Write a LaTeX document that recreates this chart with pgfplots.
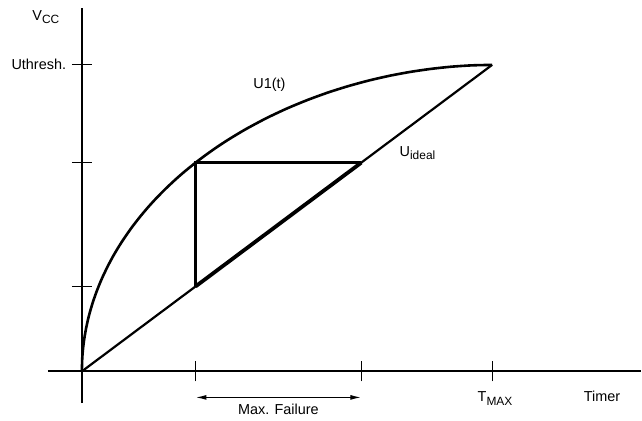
\documentclass[border=0pt]{standalone}
\usepackage{pgfplots}
\pgfplotsset{compat=1.18}
\usepackage{fontspec}
\setmainfont{Liberation Sans}
\usetikzlibrary{arrows.meta}
\newcommand{\sub}[1]{\raisebox{-0.5ex}{\fontsize{12}{14}\selectfont #1}}
\begin{document}
\begin{tikzpicture}
\begin{axis}[
 x=41.1bp, y=30.7bp,
 axis lines=middle,
 axis line style={-, line width=1.8bp},
 xmin=-0.83, xmax=13.63, ymin=-1.04, ymax=11.86,
 xtick={2.77,6.81,10}, ytick={2.77,6.81,10},
 xticklabels={}, yticklabels={},
 major tick length=20bp, tick align=center,
 tick style={line width=1.2bp, black},
 clip=false,
 font=\fontsize{14.5}{16}\selectfont,
]
% U1(t)
\addplot[black, line width=2.6bp, smooth, tension=0.4] coordinates {
(0,0) (0.01,0.438) (0.03,0.758) (0.06,1.072) (0.1,1.382) (0.15,1.691) (0.2,1.951)
(0.27,2.263) (0.35,2.571) (0.425,2.828) (0.5,3.063) (0.625,3.414) (0.75,3.729)
(0.875,4.015) (1.0,4.279) (1.2,4.666) (1.4,5.014) (1.6,5.334) (1.8,5.629)
(2.05,5.969) (2.3,6.282) (2.5,6.515) (2.77,6.808) (3.0,7.041) (3.3,7.325)
(3.6,7.586) (4.0,7.906) (4.5,8.263) (5.0,8.578) (5.5,8.855) (6.0,9.099)
(6.5,9.310) (7.0,9.492) (7.5,9.645) (8.0,9.770) (8.5,9.868) (9.0,9.940)
(9.5,9.984) (10,10)};
% U ideal
\addplot[black, line width=2.2bp] coordinates {(0,0) (10,10)};
\addplot[black, line width=3.8bp] coordinates {(2.77,2.77) (6.81,6.81)};
% triangle
\addplot[black, line width=2.6bp] coordinates {(2.77,2.77) (2.77,6.81) (6.81,6.81)};
% Max failure arrow
\addplot[black, line width=1.3bp, {Latex[length=11bp,width=5bp]}-{Latex[length=11bp,width=5bp]}] coordinates {(2.77,-0.85) (6.81,-0.85)};
\node at (axis cs:-0.876,11.56) {V\sub{CC}};
\node[anchor=east] at (axis cs:-0.30,10.03) {Uthresh.};
\node at (axis cs:4.57,9.35) {U1(t)};
\node[anchor=west] at (axis cs:7.66,7.12) {U\sub{ideal}};
\node at (axis cs:10.07,-0.89) {T\sub{MAX}};
\node at (axis cs:12.68,-0.81) {Timer};
\node at (axis cs:4.79,-1.25) {Max. Failure};
\path (axis cs:-1.995,-1.596) rectangle (axis cs:13.63,12.117);
\end{axis}
\end{tikzpicture}
\end{document}
